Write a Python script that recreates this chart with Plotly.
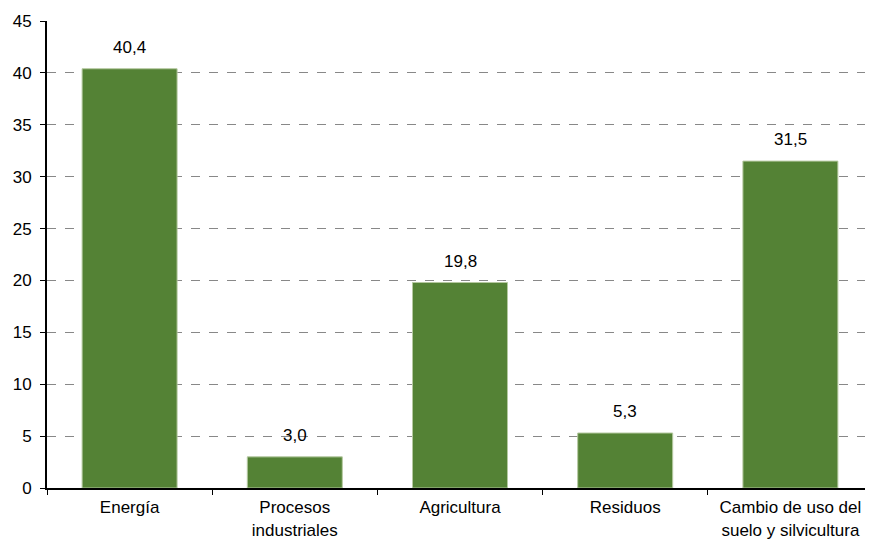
import plotly.graph_objects as go

categories = ["Energía", "Procesos<br>industriales", "Agricultura", "Residuos",
              "Cambio de uso del<br>suelo y silvicultura"]
values = [40.4, 3.0, 19.8, 5.3, 31.5]
y_ticks = [0, 5, 10, 15, 20, 25, 30, 35, 40, 45]

FONT = "Liberation Sans, Arial"
FS = 17

fig = go.Figure(go.Bar(
    x=categories, y=values,
    marker=dict(color="#548235", line=dict(color="#b5c9a0", width=1)),
    width=0.575,
    cliponaxis=False,
))

for c, v in zip(categories, values):
    fig.add_annotation(
        x=c, y=v, text=f"{v:.1f}".replace(".", ","),
        showarrow=False, yanchor="bottom", yshift=10,
        font=dict(size=FS, color="#000000", family=FONT),
    )

# page body has an 8px margin: figure drawn at (8, 8)
fig.update_layout(
    width=865, height=532,
    margin=dict(l=39, r=0, t=13, b=52),
    paper_bgcolor="white", plot_bgcolor="white",
    separators=",.",
    showlegend=False,
    font=dict(family=FONT, size=FS, color="#000000"),
    bargap=0.425,
)
fig.update_xaxes(
    showline=True, linecolor="#000000", linewidth=2,
    ticks="outside", tickson="boundaries", ticklen=5, tickcolor="#000000", tickwidth=1,
    showgrid=False, tickfont=dict(size=FS), automargin=False,
    ticklabelstandoff=3,
)
fig.update_yaxes(
    range=[0, 45], tickvals=y_ticks,
    showline=True, linecolor="#000000", linewidth=2,
    ticks="outside", ticklen=5, tickcolor="#000000",
    showgrid=True, gridcolor="#888888", griddash="dash", gridwidth=1,
    zeroline=False, tickfont=dict(size=FS), automargin=False,
    ticklabelstandoff=5,
)

fig.write_html("out.html")
